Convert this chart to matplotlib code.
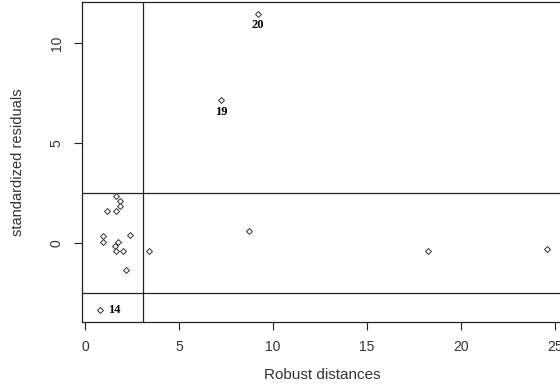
import matplotlib
matplotlib.use("Agg")
from matplotlib import pyplot as plt

# robust distances and standardized residuals, one per observation
rd = [1.67, 1.84, 1.86, 1.17, 1.67, 0.94, 2.39, 0.94, 1.74, 1.61,
      1.67, 2.02, 3.40, 2.18, 0.78, 7.23, 9.20, 8.72, 18.24, 24.57]
res = [2.35, 2.08, 1.87, 1.60, 1.60, 0.35, 0.38, 0.05, 0.05, -0.13,
       -0.40, -0.40, -0.40, -1.35, -3.35, 7.15, 11.45, 0.60, -0.40, -0.30]
obs = [3, 5, 8, 2, 9, 1, 10, 4, 6, 7, 11, 12, 13, 15, 14, 19, 20, 16, 17, 18]
labelled = {14: "right", 19: "below", 20: "below"}

rd_cut = 3.06
res_cut = [2.5, -2.5]

plt.rcParams['font.family'] = ['Liberation Sans', 'DejaVu Sans']

fig = plt.figure(figsize=(5.6, 3.87), dpi=100)
ax = fig.add_axes([0.1464, 0.168, 0.86, 0.827])

ax.scatter(rd, res, marker='D', s=9, facecolors='white',
           edgecolors='#333333', linewidths=0.7, zorder=3)

ax.axvline(rd_cut, color='#222222', lw=0.9)
for c in res_cut:
    ax.axhline(c, color='#222222', lw=0.9)

for x, y, n in zip(rd, res, obs):
    if n in labelled:
        if labelled[n] == "right":
            ax.annotate(str(n), (x, y), xytext=(6, 0), textcoords='offset points',
                        ha='left', va='center', family='Liberation Serif',
                        fontweight='bold', fontsize=9)
        else:
            ax.annotate(str(n), (x, y), xytext=(0, -4), textcoords='offset points',
                        ha='center', va='top', family='Liberation Serif',
                        fontweight='bold', fontsize=9)

ax.set_xlim(-0.16, 25.46)
ax.set_ylim(-3.95, 12.05)
ax.set_xticks([0, 5, 10, 15, 20, 25])
ax.set_yticks([0, 5, 10])
for lab in ax.get_yticklabels():
    lab.set_rotation(90)
    lab.set_va('center')
ax.tick_params(direction='out', length=6, width=0.8, colors='#222222',
               labelsize=10, labelcolor='#333333', pad=7)
for s in ax.spines.values():
    s.set_linewidth(0.9)
    s.set_color('#222222')

ax.set_xlabel('Robust distances', fontsize=11, color='#333333', labelpad=10)
ax.set_ylabel('standardized residuals', fontsize=10.5, color='#333333', labelpad=18)

fig.savefig('out.png', dpi=100)
